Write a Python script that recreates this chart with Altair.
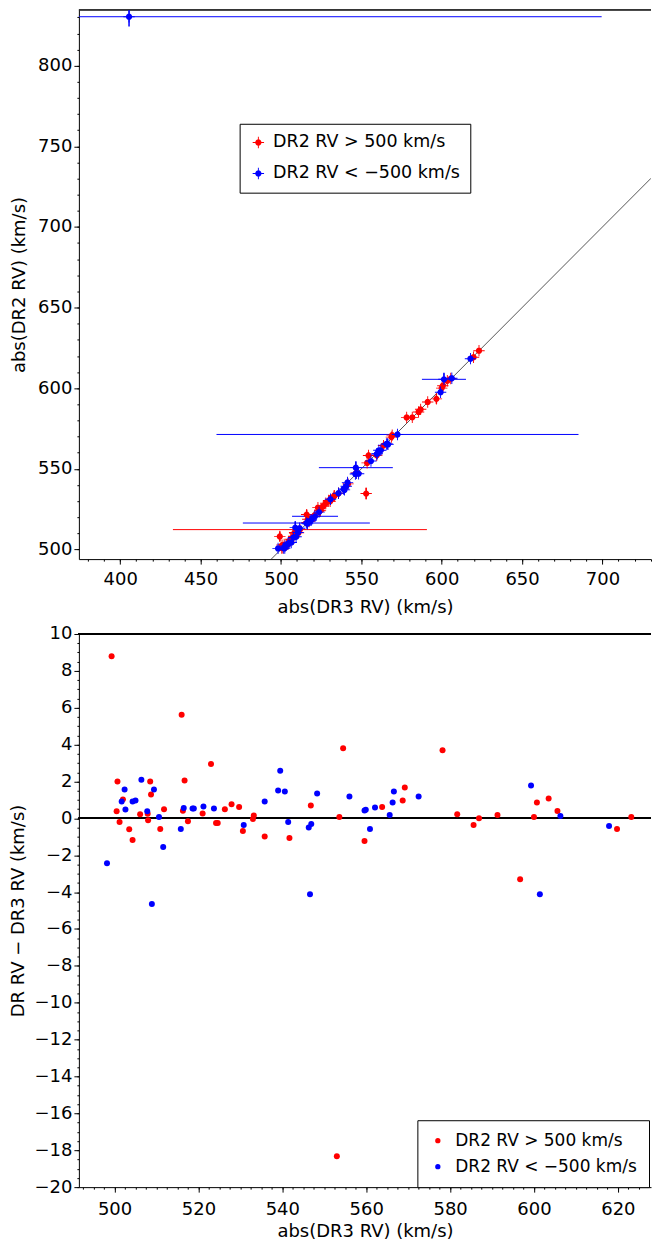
import altair as alt
import pandas as pd
import numpy as np

FONT = "DejaVu Sans"
RED = "#ff0000"
BLUE = "#0000ff"
POS_LABEL = "DR2 RV > 500 km/s"
NEG_LABEL = "DR2 RV < −500 km/s"

# ---- data: abs(DR3 RV) and DR2 RV - DR3 RV (km/s) ----
red_dr3 = [499.3, 500.7, 500.5, 501.2, 502.0, 503.5, 504.3, 506.1, 508.5, 508.7,
           507.9, 508.0, 510.9, 511.8, 516.0, 516.7, 516.3, 517.5, 521.0, 523.0,
           524.2, 524.6, 526.3, 527.9, 529.7, 530.6, 533.0, 533.2, 535.8, 541.7,
           546.8, 553.6, 554.5, 553.0, 559.6, 563.8, 568.7, 569.2, 578.2, 581.7,
           585.6, 586.9, 591.3, 596.7, 600.0, 600.7, 603.5, 605.6, 619.8, 623.2]
red_diff = [8.79, 2.00, 0.38, -0.20, 1.03, -0.59, -1.17, 0.22, 2.00, 1.30,
            0.25, -0.10, -0.58, 0.49, 5.62, 2.05, 0.41, -0.15, 0.27, 2.95,
            -0.25, -0.25, 0.49, 0.77, 0.61, -0.68, -0.04, 0.16, -0.99, -1.06,
            0.70, 0.07, 3.80, -18.33, -1.23, 0.61, 0.97, 1.68, 3.69, 0.22,
            -0.36, 0.00, 0.18, -3.30, 0.07, 0.86, 1.08, 0.40, -0.58, 0.07]

blue_dr3 = [498.2, 501.7, 502.4, 502.6, 504.3, 505.0, 506.4, 507.8, 509.4, 508.9,
            510.6, 511.6, 515.8, 516.5, 518.6, 518.9, 521.2, 523.7, 530.8, 535.8,
            539.0, 539.5, 540.6, 541.4, 546.3, 546.9, 546.6, 548.3, 556.0, 559.6,
            559.9, 560.9, 562.1, 565.6, 566.3, 566.6, 572.5, 599.3, 601.4, 606.3,
            617.9]
blue_diff = [-2.43, 0.92, 1.57, 0.48, 0.92, 0.97, 2.09, 0.38, 1.57, -4.65,
             0.07, -1.55, -0.58, 0.56, 0.54, 0.54, 0.65, 0.54, -0.36, 0.92,
             1.51, 2.58, 1.46, -0.20, -0.50, -0.31, -4.11, 1.35, 1.19, 0.43,
             0.47, -0.58, 0.59, 0.18, 0.86, 1.46, 1.19, 1.78, -4.11, 0.13,
             -0.41]

# star shown only in the upper panel (outside the lower panel's range)
extra_blue_dr3 = [405.5]
extra_blue_dr2 = [830.4]

# error bars drawn in the upper panel (point identified by its abs(DR3 RV))
red_err_dr3 = [511.8, 499.3, 553.0, 516.0, 554.5, 596.7]
red_err_x = [79.0, 0.0, 1.5, 0.0, 0.0, 0.0]
red_err_y = [0.0, 3.0, 3.6, 3.0, 2.0, 3.0]
blue_err_dr3 = [572.5, 515.8, 521.2, 546.6, 601.4, 508.9, 405.5]
blue_err_x = [112.6, 39.5, 14.3, 23.0, 13.7, 0.0, 294.0]
blue_err_y = [0.0, 0.0, 0.0, 4.0, 4.0, 4.0, 6.0]

# axis ranges
TOP_X = [374.3, 730.2]
TOP_Y = [494.0, 834.6]
BOT_X = [491.5, 627.9]
BOT_Y = [-20, 10]

# identity line of the upper panel
diag_vals = [494.0, 730.2]

# axes (major ticks with labels, minor ticks without)
top_x_major = [400, 450, 500, 550, 600, 650, 700]
top_y_major = [500, 550, 600, 650, 700, 750, 800]
bot_x_major = [500, 520, 540, 560, 580, 600, 620]
bot_y_major = list(range(-20, 11, 2))
top_x_minor = [float(v) for v in np.arange(380, 731, 10)]
top_y_minor = [float(v) for v in np.arange(500, 831, 10)]
bot_x_minor = [float(v) for v in np.arange(492.5, 627, 2.5)]
bot_y_minor = [float(v) for v in np.arange(-20, 10.01, 0.5)]

# ---- tables ----
red_dr2 = [a + d for a, d in zip(red_dr3, red_diff)]
blue_dr2 = [a - d for a, d in zip(blue_dr3, blue_diff)]

top_df = pd.DataFrame({
    "x": red_dr3 + blue_dr3 + extra_blue_dr3,
    "y": red_dr2 + blue_dr2 + extra_blue_dr2,
    "series": [POS_LABEL] * len(red_dr3) + [NEG_LABEL] * (len(blue_dr3) + len(extra_blue_dr3)),
})
bot_df = pd.DataFrame({
    "x": red_dr3 + blue_dr3,
    "y": red_diff + blue_diff,
    "series": [POS_LABEL] * len(red_dr3) + [NEG_LABEL] * len(blue_dr3),
})

red_lookup = dict(zip(red_dr3, red_dr2))
blue_lookup = dict(zip(blue_dr3 + extra_blue_dr3, blue_dr2 + extra_blue_dr2))


def err_frame(xs, exs, eys, lookup):
    rows = []
    for x, ex, ey in zip(xs, exs, eys):
        y = lookup[x]
        rows.append({"x": x, "y": y,
                     "xlo": max(x - ex, TOP_X[0]), "xhi": min(x + ex, TOP_X[1]),
                     "ylo": max(y - ey, TOP_Y[0]), "yhi": min(y + ey, TOP_Y[1]),
                     "hx": ex > 0, "hy": ey > 0})
    return pd.DataFrame(rows)


red_err = err_frame(red_err_dr3, red_err_x, red_err_y, red_lookup)
blue_err = err_frame(blue_err_dr3, blue_err_x, blue_err_y, blue_lookup)
diag_df = pd.DataFrame({"x": diag_vals, "y": diag_vals})

# ---- scales / axes ----
color_scale = alt.Scale(domain=[POS_LABEL, NEG_LABEL], range=[RED, BLUE])
tx = alt.Scale(domain=TOP_X, nice=False, zero=False)
ty = alt.Scale(domain=TOP_Y, nice=False, zero=False)
bx = alt.Scale(domain=BOT_X, nice=False, zero=False)
by = alt.Scale(domain=BOT_Y, nice=False, zero=False)


def major_axis(title, vals, orient, label_pad, title_pad):
    return alt.Axis(title=title, values=vals, orient=orient, tickSize=5, labelPadding=label_pad,
                    titlePadding=title_pad, labelOverlap=False, labelFlush=False,
                    grid=False, format="d")


def minor_axis(vals, orient):
    return alt.Axis(title=None, values=vals, orient=orient, tickSize=2, labels=False,
                    domain=False, grid=False)


CROSS = ("M-1,-0.08H1V0.08H-1Z M-0.08,-1H0.08V1H-0.08Z "
         "M0.55,0A0.55,0.55,0,1,1,-0.55,0A0.55,0.55,0,1,1,0.55,0Z")

# ---- upper panel ----
top_points = alt.Chart(top_df).mark_point(filled=True, opacity=1, shape=CROSS, size=130, clip=True).encode(
    x=alt.X("x:Q", scale=tx, axis=major_axis("abs(DR3 RV) (km/s)", top_x_major, "bottom", 6, 10)),
    y=alt.Y("y:Q", scale=ty, axis=major_axis("abs(DR2 RV) (km/s)", top_y_major, "left", 2, 9)),
    color=alt.Color("series:N", scale=color_scale, sort=[POS_LABEL, NEG_LABEL],
                    legend=alt.Legend(title=None, orient="none", legendX=161, legendY=114,
                                      strokeColor="black", fillColor="white", padding=10,
                                      cornerRadius=0, labelFont=FONT, labelFontSize=17.5,
                                      labelColor="black", labelLimit=0, rowPadding=12,
                                      symbolType=CROSS, symbolSize=130, labelOffset=6)),
)
diag = alt.Chart(diag_df).mark_line(color="#555555", strokeWidth=1, clip=True).encode(
    x=alt.X("x:Q", scale=tx, axis=minor_axis(top_x_minor, "bottom")),
    y=alt.Y("y:Q", scale=ty, axis=minor_axis(top_y_minor, "left")))
top_frame = alt.Chart(diag_df).mark_rule(color="black", strokeWidth=1).encode(y=alt.value(0))


def err_layers(df, col):
    h = alt.Chart(df).transform_filter("datum.hx").mark_rule(color=col, strokeWidth=1, clip=True).encode(
        x=alt.X("xlo:Q", scale=tx, axis=None), x2="xhi:Q", y=alt.Y("y:Q", scale=ty, axis=None))
    v = alt.Chart(df).transform_filter("datum.hy").mark_rule(color=col, strokeWidth=1.5, clip=True).encode(
        x=alt.X("x:Q", scale=tx, axis=None), y=alt.Y("ylo:Q", scale=ty, axis=None), y2="yhi:Q")
    return [h, v]


top = alt.layer(diag, top_frame, *err_layers(red_err, RED), *err_layers(blue_err, BLUE),
                top_points).resolve_axis(x="independent", y="independent").properties(width=573, height=550)

# ---- lower panel ----
minor_layer = alt.Chart(bot_df).mark_point(opacity=0).encode(
    x=alt.X("x:Q", scale=bx, axis=minor_axis(bot_x_minor, "bottom")),
    y=alt.Y("y:Q", scale=by, axis=minor_axis(bot_y_minor, "left")))
zero = alt.Chart(bot_df).mark_rule(color="black", strokeWidth=1).encode(
    y=alt.datum(0, scale=by, axis=None))
bot_frame = alt.Chart(bot_df).mark_rule(color="black", strokeWidth=1).encode(y=alt.value(0))
bot_points = alt.Chart(bot_df).mark_circle(size=36, opacity=1, clip=True).encode(
    x=alt.X("x:Q", scale=bx, axis=major_axis("abs(DR3 RV) (km/s)", bot_x_major, "bottom", 8, 4)),
    y=alt.Y("y:Q", scale=by, axis=major_axis("DR RV − DR3 RV (km/s)", bot_y_major, "left", 2, 6)),
    color=alt.Color("series:N", scale=color_scale, sort=[POS_LABEL, NEG_LABEL],
                    legend=alt.Legend(title=None, orient="none", legendX=339, legendY=487,
                                      strokeColor="black", fillColor="white", padding=12,
                                      cornerRadius=0, labelFont=FONT, labelFontSize=17,
                                      labelColor="black", labelLimit=0, rowPadding=8,
                                      symbolType="circle", symbolSize=28, labelOffset=9)),
)
bottom = alt.layer(minor_layer, bot_frame, zero, bot_points).resolve_axis(
    x="independent", y="independent").properties(width=573, height=554)

chart = alt.vconcat(top, bottom, spacing=9).resolve_scale(color="independent").properties(
    padding={"left": 2, "top": 0, "right": 0, "bottom": 0}, background="white"
).configure_view(stroke=None).configure_axis(
    domainColor="black", tickColor="black", labelColor="black", titleColor="black",
    labelFont=FONT, titleFont=FONT, labelFontSize=18, titleFontSize=18,
    titleFontWeight="normal", domainWidth=1, tickWidth=1
)

chart.save("out.html", embed_options={"renderer": "svg", "actions": False})
